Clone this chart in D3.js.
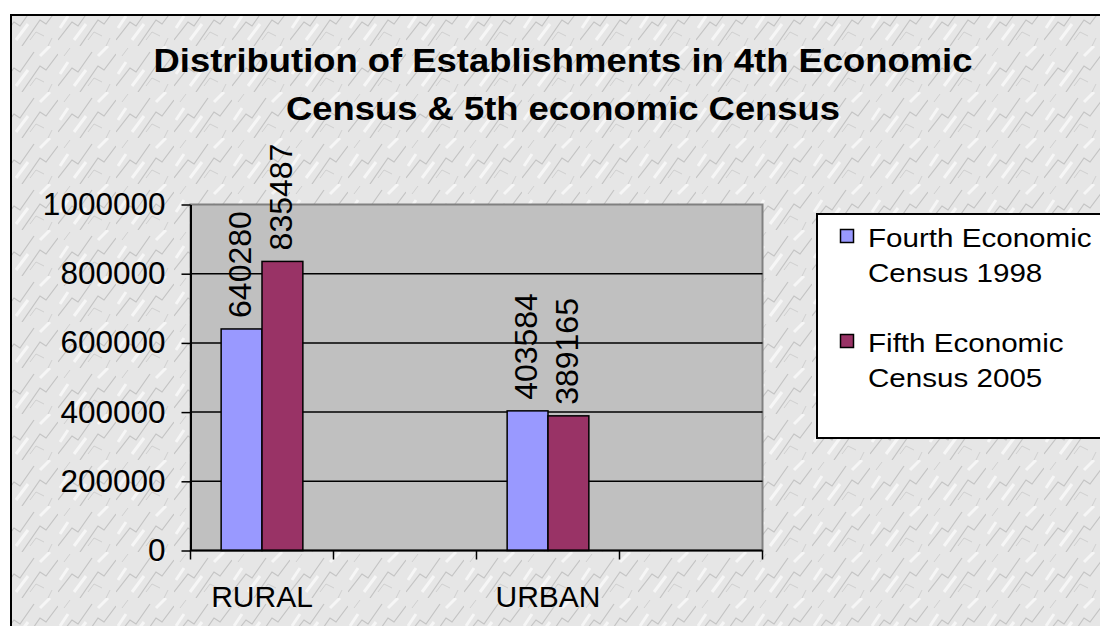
<!DOCTYPE html>
<html>
<head>
<meta charset="utf-8">
<script src="https://cdn.jsdelivr.net/npm/d3@7"></script>
<style>
  body { margin:0; background:#fff; }
  text { font-family: Arial, "Liberation Sans", sans-serif; fill:#000; }
</style>
</head>
<body>
<div id="canvas"></div>
<script>
// chart data
var categories = ['RURAL', '', 'URBAN', ''];
var seriesNames = ['Fourth Economic Census 1998', 'Fifth Economic Census 2005'];
var legendLines = [['Fourth Economic', 'Census 1998'], ['Fifth Economic', 'Census 2005']];
var fourth = [640280, null, 403584, null];
var fifth = [835487, null, 389165, null];
var yTicks = [0, 200000, 400000, 600000, 800000, 1000000];
var titleLines = ['Distribution of Establishments in 4th Economic', 'Census & 5th economic Census'];
var colors = ['#9999ff', '#993366'];

var W = 1100, H = 626;
var m = {t:204.5, r:337.5, b:75.5, l:190.5};
var w = W - m.l - m.r,
    h = H - m.t - m.b;

var svg = d3.select('#canvas')
    .append('svg')
    .attr('width', W)
    .attr('height', H);

// marble-ish background texture
var defs = svg.append('defs');
var pat = defs.append('pattern')
    .attr('id', 'marble')
    .attr('patternUnits', 'userSpaceOnUse')
    .attr('width', 58).attr('height', 46);
pat.append('rect').attr('width', 58).attr('height', 46).attr('fill', '#e6e6e6');
pat.append('path').attr('d', 'M0 40 L14 22 L20 26 L34 6 M22 46 L40 20 L46 24 L58 8')
    .attr('stroke', '#c4c4c4').attr('stroke-width', 1.2).attr('fill', 'none');
pat.append('path').attr('d', 'M6 10 L12 2 M30 40 L36 32 L44 36 M48 46 L52 38')
    .attr('stroke', '#d0d0d0').attr('stroke-width', 1).attr('fill', 'none');
pat.append('path').attr('d', 'M2 28 L10 16 M16 40 L28 24 M40 10 L50 0')
    .attr('stroke', '#f6f6f6').attr('stroke-width', 3).attr('fill', 'none');

svg.append('rect')
    .attr('x', 11).attr('y', 15)
    .attr('width', W + 20).attr('height', H + 20)
    .attr('fill', 'url(#marble)')
    .attr('stroke', '#000').attr('stroke-width', 2);

// title
var title = svg.append('g').attr('transform', 'translate(563,0) scale(1.12,1)');
titleLines.forEach(function(t, i){
    title.append('text')
        .attr('y', 72 + i*48)
        .attr('text-anchor', 'middle')
        .style('font-size', '32.5px')
        .style('font-weight', 'bold')
        .text(t);
});

var plot = svg.append('g')
    .attr('transform', 'translate(' + m.l + ',' + m.t + ')');

var scaleY = d3.scaleLinear()
    .domain([0, 1000000])
    .range([h, 0]);

var scaleX = d3.scaleBand()
    .domain(d3.range(categories.length))
    .range([0, w])
    .padding(0);

// gap width 150% like excel
var scaleX1 = d3.scaleBand()
    .domain([0, 1])
    .range([0, scaleX.bandwidth()])
    .paddingInner(0)
    .paddingOuter(0.75);

plot.append('rect')
    .attr('width', w).attr('height', h)
    .attr('fill', '#c0c0c0')
    .attr('stroke', '#808080').attr('stroke-width', 2);

// gridlines
plot.selectAll('.grid')
    .data(yTicks.filter(function(d){ return d > 0 && d < 1000000; }))
    .enter().append('line')
    .attr('x1', 0).attr('x2', w)
    .attr('y1', function(d){ return scaleY(d); })
    .attr('y2', function(d){ return scaleY(d); })
    .attr('stroke', '#000').attr('stroke-width', 1.5);

// bars
[fourth, fifth].forEach(function(vals, s){
    vals.forEach(function(v, i){
        if (v == null) return;
        var x = scaleX(i) + scaleX1(s);
        plot.append('rect')
            .attr('x', x)
            .attr('y', scaleY(v))
            .attr('width', scaleX1.bandwidth())
            .attr('height', h - scaleY(v))
            .attr('fill', colors[s])
            .attr('stroke', '#000').attr('stroke-width', 1.5);

        var cx = x + scaleX1.bandwidth()/2 - 2;
        plot.append('text')
            .attr('transform', 'translate(' + cx + ',' + (scaleY(v) - 11) + ') rotate(-90)')
            .attr('dy', '0.36em')
            .style('font-size', '32px')
            .text(v);
    });
});

// axes
var axisY = d3.axisLeft(scaleY)
    .tickValues(yTicks)
    .tickSize(9)
    .tickSizeOuter(0)
    .tickPadding(16)
    .tickFormat(d3.format('d'));
var yNode = plot.append('g').call(axisY);
yNode.selectAll('text').style('font-size', '31.5px').style('font-family', 'Arial, "Liberation Sans", sans-serif').attr('fill', '#000');
yNode.selectAll('line').attr('stroke', '#000').attr('stroke-width', 1.5);
yNode.select('.domain').attr('stroke', '#000').attr('stroke-width', 2);

var xNode = plot.append('g').attr('transform', 'translate(0,' + h + ')');
xNode.append('line').attr('x1', 0).attr('x2', w).attr('stroke', '#000').attr('stroke-width', 2);
d3.range(categories.length + 1).forEach(function(i){
    var x = i < categories.length ? scaleX(i) : w;
    xNode.append('line')
        .attr('x1', x).attr('x2', x)
        .attr('y1', 0).attr('y2', 9)
        .attr('stroke', '#000').attr('stroke-width', 1.5);
});
xNode.selectAll('.cat')
    .data(categories)
    .enter().append('text')
    .attr('x', function(d, i){ return scaleX(i) + scaleX.bandwidth()/2; })
    .attr('y', 56)
    .attr('text-anchor', 'middle')
    .style('font-size', '30px')
    .text(function(d){ return d; });

// legend
var legend = svg.append('g').attr('transform', 'translate(817,214)');
legend.append('rect')
    .attr('width', 300).attr('height', 224)
    .attr('fill', '#fff')
    .attr('stroke', '#000').attr('stroke-width', 2);
seriesNames.forEach(function(name, s){
    var g = legend.append('g').attr('transform', 'translate(0,' + (s*105) + ')');
    g.append('rect')
        .attr('x', 23.5).attr('y', 15.5)
        .attr('width', 13).attr('height', 13)
        .attr('fill', colors[s])
        .attr('stroke', '#000').attr('stroke-width', 1.5);
    var tg = g.append('g').attr('transform', 'translate(51,0) scale(1.16,1)');
    legendLines[s].forEach(function(line, j){
        tg.append('text')
            .attr('y', 33 + j*35.5)
            .style('font-size', '25.5px')
            .text(line);
    });
});
</script>
</body>
</html>
